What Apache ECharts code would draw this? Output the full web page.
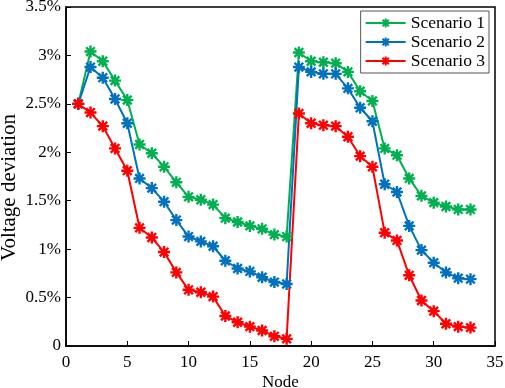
<!DOCTYPE html>
<html>
<head>
<meta charset="utf-8">
<script src="https://cdn.jsdelivr.net/npm/echarts@6/dist/echarts.min.js"></script>
<style>
  html, body { margin: 0; padding: 0; background: #fff; }
  #chart { width: 505px; height: 388px; }
</style>
</head>
<body>
<div id="chart"></div>
<script>
// 节点编号
const nodes = Array.from({ length: 33 }, (_, i) => i + 1)

// 电压偏差 (%)
const scenario1 = [2.50, 3.04, 2.94, 2.74, 2.54, 2.08, 1.99, 1.85, 1.69, 1.54, 1.51, 1.46, 1.32, 1.28, 1.24, 1.21, 1.15, 1.13,
  3.03, 2.94, 2.93, 2.92, 2.83, 2.63, 2.53, 2.04, 1.97, 1.73, 1.55, 1.48, 1.44, 1.41, 1.41]
const scenario2 = [2.50, 2.88, 2.77, 2.55, 2.30, 1.73, 1.63, 1.49, 1.30, 1.13, 1.08, 1.03, 0.88, 0.80, 0.77, 0.71, 0.66, 0.64,
  2.88, 2.83, 2.81, 2.81, 2.66, 2.46, 2.32, 1.67, 1.59, 1.24, 0.99, 0.86, 0.76, 0.70, 0.69]
const scenario3 = [2.50, 2.41, 2.27, 2.04, 1.81, 1.22, 1.12, 0.97, 0.76, 0.58, 0.555, 0.51, 0.31, 0.245, 0.20, 0.16, 0.10, 0.074,
  2.40, 2.30, 2.28, 2.27, 2.16, 1.96, 1.85, 1.17, 1.09, 0.73, 0.47, 0.36, 0.23, 0.20, 0.19]

const seriesNames = ['Scenario 1', 'Scenario 2', 'Scenario 3']
const seriesColors = ['#00b050', '#0072bd', '#ff0000']

const font = 'Liberation Serif'
// 星号标记
const star = 'path://M0,-5L0,5M-5,0L5,0M-3.6,-3.6L3.6,3.6M-3.6,3.6L3.6,-3.6'

const chart = echarts.init(document.getElementById('chart'))

function makeSeries(name, values, color) {
  return {
    name,
    type: 'line',
    data: nodes.map((n, i) => [n, values[i]]),
    symbol: star,
    symbolSize: 12,
    showSymbol: true,
    itemStyle: { color: color, borderColor: color, borderWidth: 2.4 },
    lineStyle: { color: color, width: 2 },
    emphasis: { disabled: true }
  }
}

const option = {
  animation: false,
  grid: {
    left: 66,
    right: 10,
    top: 7,
    bottom: 42,
    outerBoundsMode: 'none',
    containLabel: false,
    show: true,
    borderColor: '#000',
    borderWidth: 1.5,
    backgroundColor: 'transparent'
  },
  legend: {
    data: seriesNames,
    orient: 'vertical',
    right: 16,
    top: 11,
    itemWidth: 40,
    itemHeight: 11,
    itemGap: 1,
    padding: [3, 4, 3, 4],
    borderColor: '#555',
    borderWidth: 1,
    backgroundColor: '#fff',
    textStyle: { fontFamily: font, fontSize: 17.5, color: '#000' }
  },
  xAxis: {
    type: 'value',
    min: 0,
    max: 35,
    interval: 5,
    name: 'Node',
    nameLocation: 'middle',
    nameGap: 28,
    nameMoveOverlap: false,
    nameTextStyle: { fontFamily: font, fontSize: 17, color: '#000' },
    axisLine: { show: true, lineStyle: { color: '#000', width: 1.5 } },
    axisTick: { show: true, inside: true, length: 5, lineStyle: { color: '#000', width: 1 } },
    axisLabel: { fontFamily: font, fontSize: 17, color: '#000', margin: 8 },
    splitLine: { show: false }
  },
  yAxis: {
    type: 'value',
    min: 0,
    max: 3.5,
    interval: 0.5,
    name: 'Voltage deviation',
    nameLocation: 'middle',
    nameGap: 46,
    nameMoveOverlap: false,
    nameTextStyle: { fontFamily: font, fontSize: 21, color: '#000', padding: [0, 22, 0, 0] },
    axisLine: { show: true, lineStyle: { color: '#000', width: 1.5 } },
    axisTick: { show: true, inside: true, length: 5, lineStyle: { color: '#000', width: 1 } },
    axisLabel: {
      fontFamily: font, fontSize: 17, color: '#000', margin: 5,
      formatter: v => (v === 0 ? '0' : v + '%')
    },
    splitLine: { show: false }
  },
  series: [
    makeSeries(seriesNames[0], scenario1, seriesColors[0]),
    makeSeries(seriesNames[1], scenario2, seriesColors[1]),
    makeSeries(seriesNames[2], scenario3, seriesColors[2])
  ]
}

chart.setOption(option)
</script>
</body>
</html>
